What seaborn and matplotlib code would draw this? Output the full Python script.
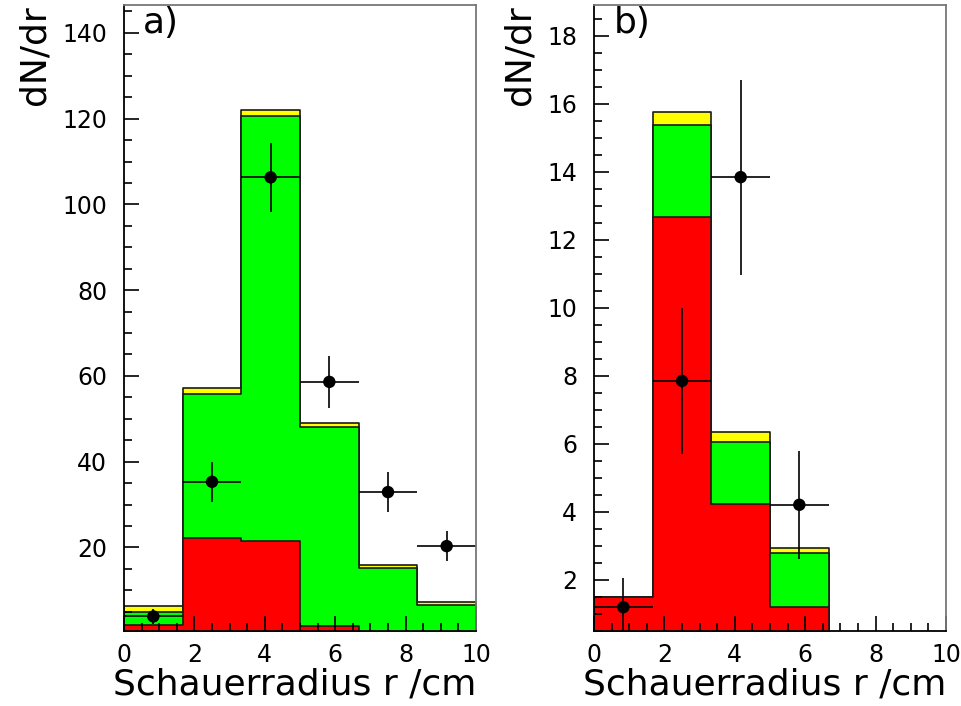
import numpy as np
import pandas as pd
import matplotlib
matplotlib.use("Agg")
import matplotlib.pyplot as plt
import seaborn as sns
from matplotlib.ticker import MultipleLocator

# Binning of the shower radius r (cm)
bin_edges = np.linspace(0.0, 10.0, 7)
bin_centers = 0.5 * (bin_edges[:-1] + bin_edges[1:])
bin_halfwidth = 0.5 * (bin_edges[1] - bin_edges[0])

# Panel a) stacked simulation components (contribution per bin)
red_a = [1.8, 22.2, 21.6, 1.7, 0.0, 0.0]
green_a = [3.2, 33.5, 99.1, 46.3, 15.3, 6.6]
yellow_a = [1.4, 1.4, 1.3, 0.9, 0.7, 0.6]
# Panel a) measured points
data_a = [3.9, 35.3, 106.3, 58.6, 32.9, 20.3]
err_a = [1.7, 4.6, 8.0, 6.0, 4.6, 3.5]

# Panel b) stacked simulation components
red_b = [1.5, 12.68, 4.24, 1.21, 0.0, 0.0]
green_b = [0.0, 2.70, 1.82, 1.59, 0.0, 0.0]
yellow_b = [0.0, 0.37, 0.29, 0.15, 0.0, 0.0]
# Panel b) measured points (only first four bins populated)
data_b = [1.2, 7.85, 13.84, 4.21]
err_b = [0.85, 2.15, 2.87, 1.58]

panel_tags = ["a)", "b)"]
x_label = "Schauerradius r /cm"
y_label = "dN/dr"

sns.set_theme(style="white")
plt.rcParams["font.family"] = ["DejaVu Sans"]
plt.rcParams.update({
    "text.color": "black",
    "axes.labelcolor": "black",
    "xtick.color": "black",
    "ytick.color": "black",
})

fig = plt.figure(figsize=(9.62, 7.06), dpi=100)
W, H = 962.0, 706.0
ax_a = fig.add_axes([124 / W, (H - 631) / H, 352 / W, 626 / H])
ax_b = fig.add_axes([594 / W, (H - 631) / H, 352 / W, 626 / H])


def draw_panel(ax, red, green, yellow, data, err, ylim, ymajor, yminor, tag):
    red = np.asarray(red, dtype=float)
    green = np.asarray(green, dtype=float)
    yellow = np.asarray(yellow, dtype=float)
    layers = [
        (red + green + yellow, "#ffff00"),
        (red + green, "#00ff00"),
        (red, "#ff0000"),
    ]
    for tops, colour in layers:
        frame = pd.DataFrame({"r": bin_centers, "w": tops})
        sns.histplot(
            data=frame, x="r", weights="w", bins=bin_edges.tolist(),
            element="step", fill=True, color=colour, alpha=1.0,
            edgecolor="#1a1a1a", linewidth=1.2, ax=ax, legend=False,
        )
    n = len(data)
    xs = bin_centers[:n]
    ax.errorbar(xs, data, xerr=bin_halfwidth, yerr=err, fmt="none",
                ecolor="black", elinewidth=1.2, capsize=0, zorder=5)
    sns.scatterplot(x=xs, y=data, color="black", s=80, edgecolor="none",
                    zorder=6, ax=ax, legend=False)

    ax.set_xlim(0, 10)
    ax.set_ylim(*ylim)
    ax.set_axisbelow(False)
    ax.xaxis.set_major_locator(MultipleLocator(2))
    ax.xaxis.set_minor_locator(MultipleLocator(0.5))
    ax.yaxis.set_major_locator(MultipleLocator(ymajor))
    ax.yaxis.set_minor_locator(MultipleLocator(yminor))
    ax.tick_params(axis="both", which="both", direction="in",
                   bottom=True, left=True, top=False, right=False,
                   color="black", width=1.2)
    ax.tick_params(axis="both", which="major", length=11, labelsize=17)
    ax.tick_params(axis="both", which="minor", length=6)
    ax.tick_params(axis="y", which="major", pad=12)
    ax.tick_params(axis="x", which="major", pad=9)
    for side, spine in ax.spines.items():
        spine.set_visible(True)
        spine.set_linewidth(1.3)
        spine.set_color("black" if side in ("left", "bottom") else "#777777")
        spine.set_zorder(10)
    ax.set_xlabel(x_label, fontsize=26, loc="right", labelpad=0)
    ax.set_ylabel(y_label, fontsize=26, loc="top", labelpad=8)
    ax.text(0.055, 0.998, tag, transform=ax.transAxes, fontsize=26,
            ha="left", va="top")
    ax.grid(False)
    ax.set_facecolor("white")
    lo, hi = ylim
    ticks = np.arange(ymajor, hi, ymajor)
    ax.set_yticks(ticks[ticks > lo])
    ax.set_yticklabels([f"{t:g}" for t in ticks[ticks > lo]])


draw_panel(ax_a, red_a, green_a, yellow_a, data_a, err_a,
           (0.5, 146.5), 20, 5, panel_tags[0])
draw_panel(ax_b, red_b, green_b, yellow_b, data_b, err_b,
           (0.5, 18.9), 2, 0.5, panel_tags[1])

fig.savefig("out.png", dpi=100, facecolor="white")
